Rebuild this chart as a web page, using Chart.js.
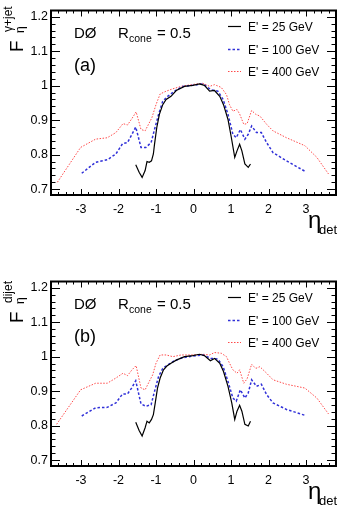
<!DOCTYPE html>
<html>
<head>
<meta charset="utf-8">
<script src="https://cdn.jsdelivr.net/npm/chart.js@4.4.1/dist/chart.umd.min.js"></script>
<style>
  body { margin: 0; background: #fff; width: 341px; height: 508px; overflow: hidden; position: relative; }
  canvas { position: absolute; left: 0; }
  #chartA { top: 0; }
  #chartB { top: 271px; }
</style>
</head>
<body>
<canvas id="chartA" width="341" height="237"></canvas>
<canvas id="chartB" width="341" height="237"></canvas>
<script>
// Panel (a): gamma+jet
const etaBlackA = [-1.54, -1.45, -1.37, -1.29, -1.24, -1.18, -1.12, -1.07, -1.04, -0.98, -0.91, -0.82, -0.73, -0.60, -0.46, -0.24, -0.02, 0.16, 0.29, 0.43, 0.56, 0.70, 0.80, 0.92, 1.01, 1.10, 1.16, 1.23, 1.29, 1.37, 1.46, 1.52];
const fBlackA   = [0.771, 0.749, 0.734, 0.754, 0.780, 0.778, 0.782, 0.802, 0.830, 0.878, 0.917, 0.945, 0.960, 0.969, 0.986, 0.998, 1.001, 1.005, 1.001, 0.984, 0.986, 0.969, 0.945, 0.902, 0.849, 0.792, 0.811, 0.830, 0.811, 0.773, 0.763, 0.773];

const etaBlueA = [-2.98, -2.61, -2.30, -2.07, -1.89, -1.76, -1.65, -1.54, -1.40, -1.27, -1.13, -1.04, -0.93, -0.82, -0.69, -0.51, -0.29, -0.02, 0.25, 0.47, 0.65, 0.79, 0.92, 1.05, 1.14, 1.25, 1.37, 1.46, 1.55, 1.68, 1.81, 1.95, 2.12, 2.48, 2.97];
const fBlueA   = [0.746, 0.778, 0.785, 0.802, 0.832, 0.835, 0.857, 0.880, 0.821, 0.821, 0.835, 0.873, 0.917, 0.955, 0.969, 0.984, 0.998, 1.001, 1.005, 0.988, 0.984, 0.960, 0.917, 0.859, 0.849, 0.873, 0.845, 0.859, 0.883, 0.864, 0.864, 0.835, 0.806, 0.782, 0.752];

const etaRedA = [-3.63, -3.01, -2.61, -2.30, -2.07, -1.88, -1.76, -1.64, -1.53, -1.40, -1.29, -1.20, -1.11, -1.00, -0.89, -0.73, -0.55, -0.33, -0.06, 0.25, 0.43, 0.56, 0.74, 0.88, 0.96, 1.05, 1.16, 1.23, 1.34, 1.43, 1.55, 1.66, 1.77, 1.95, 2.12, 2.48, 2.97, 3.29, 3.60];
const fRedA   = [0.720, 0.821, 0.845, 0.849, 0.864, 0.890, 0.886, 0.905, 0.924, 0.873, 0.869, 0.888, 0.907, 0.945, 0.976, 0.984, 0.991, 0.998, 1.003, 1.007, 0.998, 1.003, 0.995, 0.974, 0.945, 0.926, 0.931, 0.918, 0.888, 0.890, 0.928, 0.917, 0.912, 0.888, 0.869, 0.849, 0.826, 0.792, 0.744];

// Panel (b): dijet
const etaBlackB = [-1.54, -1.45, -1.37, -1.29, -1.24, -1.18, -1.12, -1.07, -1.02, -0.96, -0.89, -0.80, -0.71, -0.60, -0.46, -0.24, -0.02, 0.16, 0.29, 0.45, 0.56, 0.70, 0.80, 0.92, 1.02, 1.10, 1.16, 1.23, 1.29, 1.37, 1.46, 1.52];
const fBlackB   = [0.810, 0.786, 0.770, 0.794, 0.813, 0.808, 0.818, 0.832, 0.866, 0.909, 0.938, 0.962, 0.973, 0.981, 0.990, 1.000, 1.003, 1.007, 1.003, 0.988, 0.995, 0.981, 0.957, 0.914, 0.866, 0.818, 0.842, 0.859, 0.842, 0.804, 0.799, 0.813];

const etaBlueB = [-2.98, -2.61, -2.30, -2.07, -1.89, -1.76, -1.65, -1.54, -1.40, -1.27, -1.13, -1.04, -0.93, -0.82, -0.69, -0.51, -0.29, -0.02, 0.25, 0.47, 0.65, 0.79, 0.92, 1.05, 1.14, 1.25, 1.37, 1.46, 1.55, 1.68, 1.81, 1.95, 2.12, 2.48, 2.97];
const fBlueB   = [0.828, 0.852, 0.853, 0.866, 0.892, 0.892, 0.909, 0.930, 0.863, 0.856, 0.861, 0.899, 0.943, 0.966, 0.976, 0.988, 0.997, 1.002, 1.005, 0.995, 0.993, 0.971, 0.928, 0.880, 0.871, 0.904, 0.880, 0.895, 0.933, 0.914, 0.920, 0.890, 0.866, 0.847, 0.830];

const etaRedB = [-3.65, -3.01, -2.61, -2.30, -2.07, -1.88, -1.76, -1.64, -1.53, -1.40, -1.29, -1.18, -1.09, -1.00, -0.89, -0.73, -0.55, -0.33, -0.06, 0.25, 0.43, 0.56, 0.74, 0.88, 0.96, 1.05, 1.16, 1.23, 1.34, 1.43, 1.55, 1.66, 1.77, 1.95, 2.12, 2.48, 2.97, 3.29, 3.60];
const fRedB   = [0.804, 0.904, 0.923, 0.923, 0.938, 0.952, 0.945, 0.962, 0.974, 0.909, 0.904, 0.928, 0.947, 0.981, 1.005, 1.005, 1.000, 1.005, 1.005, 1.007, 1.005, 1.012, 1.010, 1.000, 0.981, 0.962, 0.952, 0.962, 0.923, 0.936, 0.978, 0.966, 0.971, 0.952, 0.933, 0.920, 0.909, 0.880, 0.834];

const seriesLabels = ["E' = 25 GeV", "E' = 100 GeV", "E' = 400 GeV"];
const xMajorTicks = [-3, -2, -1, 0, 1, 2, 3];
const yMajorTicks = [0.7, 0.8, 0.9, 1.0, 1.1, 1.2];

const FONT = '"Liberation Sans", Arial, Helvetica, sans-serif';

function pts(xs, ys) {
    return xs.map((x, i) => ({ x: x, y: ys[i] }));
}

const framePlugin = {
    id: 'frame',
    afterDraw(chart, args, opts) {
        const ctx = chart.ctx;
        const a = chart.chartArea;
        const xs = chart.scales.x, ys = chart.scales.y;
        ctx.save();
        ctx.strokeStyle = '#000';
        ctx.lineWidth = 1;
        ctx.beginPath();
        // x ticks, top and bottom
        for (let k = -19; k <= 19; k++) {
            const v = k * 0.2;
            const px = Math.round(xs.getPixelForValue(v)) + 0.5;
            const len = (k % 5 === 0) ? 6 : 3;
            ctx.moveTo(px, a.bottom); ctx.lineTo(px, a.bottom - len);
            ctx.moveTo(px, a.top); ctx.lineTo(px, a.top + len);
        }
        // y ticks, left and right
        for (let k = 34; k <= 61; k++) {
            const v = k * 0.02;
            if (v < ys.min || v > ys.max) continue;
            const py = Math.round(ys.getPixelForValue(v)) + 0.5;
            const len = (k % 5 === 0) ? 9 : 4.5;
            ctx.moveTo(a.left, py); ctx.lineTo(a.left + len, py);
            ctx.moveTo(a.right, py); ctx.lineTo(a.right - len, py);
        }
        ctx.stroke();
        ctx.lineWidth = 2;
        ctx.strokeRect(a.left, a.top, a.right - a.left, a.bottom - a.top);

        ctx.fillStyle = '#000';
        ctx.textBaseline = 'alphabetic';
        // DØ  Rcone = 0.5
        ctx.font = '15px ' + FONT;
        ctx.fillText('DØ', 74, 38);
        ctx.fillText('R', 118, 38);
        ctx.font = '10.5px ' + FONT;
        ctx.fillText('cone', 129, 42);
        ctx.font = '15px ' + FONT;
        ctx.fillText('= 0.5', 157, 38);
        ctx.font = '18px ' + FONT;
        ctx.fillText(opts.tag, 74, 71);

        // legend
        const rows = [26, 49, 71];
        chart.data.datasets.forEach((ds, i) => {
            ctx.save();
            ctx.strokeStyle = ds.borderColor;
            ctx.lineWidth = ds.borderWidth;
            ctx.setLineDash(ds.borderDash || []);
            ctx.beginPath();
            ctx.moveTo(228, rows[i] + 0.5);
            ctx.lineTo(241, rows[i] + 0.5);
            ctx.stroke();
            ctx.restore();
            ctx.font = '12px ' + FONT;
            ctx.fillText(ds.label, 248, rows[i] + 4.5);
        });

        // x axis title
        ctx.font = '24px ' + FONT;
        ctx.fillText('η', 308, 228);
        ctx.font = '13px ' + FONT;
        ctx.fillText('det', 319, 234);

        // y axis title
        ctx.save();
        ctx.translate(23, 52);
        ctx.rotate(-Math.PI / 2);
        ctx.font = '19px ' + FONT;
        ctx.fillText('F', 0, 0);
        ctx.font = '12px ' + FONT;
        ctx.fillText(opts.sup, 20, -11);
        ctx.fillText('η', 19, 0.5);
        ctx.restore();
        ctx.restore();
    }
};

function makePanel(id, tag, sup, black, blue, red) {
    new Chart(document.getElementById(id), {
        type: 'line',
        data: {
            datasets: [{
                label: seriesLabels[0],
                data: black,
                borderColor: '#000000',
                borderWidth: 1.2,
                pointRadius: 0,
                tension: 0,
                fill: false
            }, {
                label: seriesLabels[1],
                data: blue,
                borderColor: '#3030d8',
                borderWidth: 1.5,
                borderDash: [2.5, 2],
                pointRadius: 0,
                tension: 0,
                fill: false
            }, {
                label: seriesLabels[2],
                data: red,
                borderColor: '#ff4a4a',
                borderWidth: 1,
                borderDash: [1.5, 1.5],
                pointRadius: 0,
                tension: 0,
                fill: false
            }]
        },
        options: {
            responsive: false,
            animation: false,
            layout: { padding: { left: 0, right: 5, top: 8, bottom: 0 } },
            plugins: {
                legend: { display: false },
                tooltip: { enabled: false },
                frame: { tag: tag, sup: sup }
            },
            scales: {
                x: {
                    type: 'linear',
                    min: -3.8,
                    max: 3.8,
                    grid: { display: false, drawTicks: false },
                    border: { display: false },
                    afterBuildTicks: s => { s.ticks = xMajorTicks.map(v => ({ value: v })); },
                    afterFit: s => { s.height = 42; },
                    ticks: {
                        color: '#000',
                        padding: 7,
                        maxRotation: 0,
                        font: { family: FONT, size: 12.5 },
                        callback: v => String(v)
                    }
                },
                y: {
                    type: 'linear',
                    min: 0.683,
                    max: 1.218,
                    grid: { display: false, drawTicks: false },
                    border: { display: false },
                    afterBuildTicks: s => { s.ticks = yMajorTicks.map(v => ({ value: v })); },
                    afterFit: s => { s.width = 51; },
                    ticks: {
                        color: '#000',
                        padding: 3,
                        font: { family: FONT, size: 12.5 },
                        callback: v => String(+v.toFixed(2))
                    }
                }
            }
        },
        plugins: [framePlugin]
    });
}

makePanel('chartA', '(a)', 'γ+jet', pts(etaBlackA, fBlackA), pts(etaBlueA, fBlueA), pts(etaRedA, fRedA));
makePanel('chartB', '(b)', 'dijet', pts(etaBlackB, fBlackB), pts(etaBlueB, fBlueB), pts(etaRedB, fRedB));
</script>
</body>
</html>
